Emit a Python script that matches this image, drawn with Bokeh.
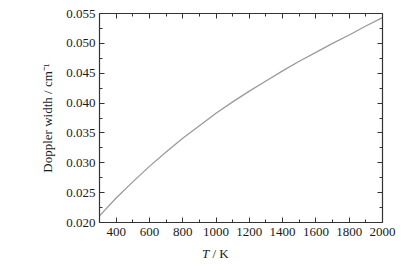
from bokeh.plotting import figure
from bokeh.models import LinearAxis, FixedTicker, Range1d, NumeralTickFormatter, Div
from bokeh.layouts import column
from bokeh.embed import file_html
from bokeh.resources import INLINE

# Data
temperature_K = [300, 400, 500, 600, 700, 800, 900, 1000, 1100, 1200, 1300,
                 1400, 1500, 1600, 1700, 1800, 1900, 2000]
doppler_width = [0.0211, 0.0241, 0.0268, 0.0294, 0.0318, 0.0341, 0.0362, 0.0383,
                 0.0402, 0.0420, 0.0437, 0.0454, 0.0470, 0.0485, 0.0500, 0.0514,
                 0.0529, 0.0543]

x_major = [400, 600, 800, 1000, 1200, 1400, 1600, 1800, 2000]
x_minor = [300, 500, 700, 900, 1100, 1300, 1500, 1700, 1900]
y_major = [0.020, 0.025, 0.030, 0.035, 0.040, 0.045, 0.050, 0.055]
y_minor = [0.0225, 0.0275, 0.0325, 0.0375, 0.0425, 0.0475, 0.0525]

FONT = "Liberation Serif"
AXIS_COLOR = "#333333"
TEXT_COLOR = "#1a1a1a"

p = figure(width=400, height=241, output_backend="svg", toolbar_location=None,
           x_range=Range1d(300, 2000), y_range=Range1d(0.020, 0.055),
           min_border_left=99, min_border_right=18, min_border_top=13,
           min_border_bottom=19)
p.outline_line_color = None
p.xgrid.visible = False
p.ygrid.visible = False
p.background_fill_color = "white"
p.border_fill_color = "white"

p.line(temperature_K, doppler_width, line_color="#9a9a9a", line_width=1.3)

def style(ax, labels=True):
    ax.axis_line_color = AXIS_COLOR
    ax.axis_line_width = 1.2
    ax.major_tick_line_color = AXIS_COLOR
    ax.minor_tick_line_color = AXIS_COLOR
    ax.major_tick_in = 5
    ax.major_tick_out = 0
    ax.minor_tick_in = 3
    ax.minor_tick_out = 0
    ax.major_label_text_font = FONT
    ax.major_label_text_font_size = "13px"
    ax.major_label_text_color = TEXT_COLOR
    if not labels:
        ax.major_label_text_font_size = "0px"
        ax.major_label_text_alpha = 0

xt = FixedTicker(ticks=x_major, minor_ticks=x_minor)
yt = FixedTicker(ticks=y_major, minor_ticks=y_minor)

p.xaxis.ticker = xt
p.yaxis.ticker = yt
p.yaxis.formatter = NumeralTickFormatter(format="0.000")
style(p.xaxis[0])
style(p.yaxis[0])
p.xaxis.major_label_standoff = 5
p.yaxis.major_label_standoff = 4

top = LinearAxis(ticker=xt)
right = LinearAxis(ticker=yt)
style(top, labels=False)
style(right, labels=False)
p.add_layout(top, "above")
p.add_layout(right, "right")

p.yaxis[0].axis_label = "Doppler width / cm⁻¹"
p.yaxis[0].axis_label_text_font = FONT
p.yaxis[0].axis_label_text_font_style = "normal"
p.yaxis[0].axis_label_text_font_size = "13px"
p.yaxis[0].axis_label_text_color = TEXT_COLOR
p.yaxis[0].axis_label_standoff = 8

xlabel = Div(text="<i>T</i> / K", width=400, height=20,
             styles={"font-family": FONT, "font-size": "13px", "color": TEXT_COLOR,
                     "padding-left": "197px", "line-height": "15px",
                     "box-sizing": "border-box"})

layout = column(p, xlabel, spacing=0)

open("out.html", "w").write(file_html(layout, INLINE))
